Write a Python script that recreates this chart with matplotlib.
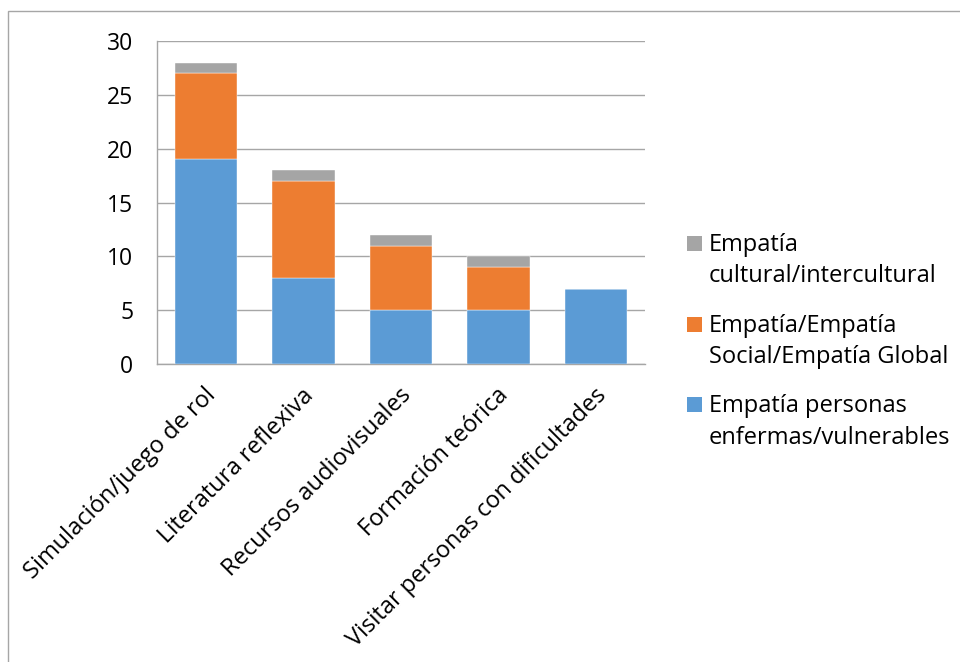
import matplotlib
matplotlib.use("Agg")
import matplotlib.pyplot as plt
from matplotlib.patches import Rectangle
import matplotlib.transforms as mtransforms
import numpy as np

categories = ["Simulación/juego de rol", "Literatura reflexiva", "Recursos audiovisuales",
              "Formación teórica", "Visitar personas con dificultades"]
series_names = ["Empatía personas\nenfermas/vulnerables",
                "Empatía/Empatía\nSocial/Empatía Global",
                "Empatía\ncultural/intercultural"]
vulnerables = [19, 8, 5, 5, 7]
social_global = [8, 9, 6, 4, 0]
cultural = [1, 1, 1, 1, 0]
yticks = [0, 5, 10, 15, 20, 25, 30]

colors = ["#5B9BD5", "#ED7D31", "#A5A5A5"]

plt.rcParams['font.family'] = ['Open Sans', 'DejaVu Sans']

W, H = 960, 662
fig = plt.figure(figsize=(W / 100, H / 100), dpi=100)
ax = fig.add_axes([157 / W, 1 - 364 / H, (645 - 157) / W, (364 - 41) / H])

x = np.arange(len(categories))
bw = 0.64
bottom = np.zeros(len(categories))
for vals, c in zip([vulnerables, social_global, cultural], colors):
    v = np.array(vals, dtype=float)
    ax.bar(x, v, bw, bottom=bottom, color=c, edgecolor='white', linewidth=0.3, zorder=3)
    bottom += v

ax.set_xlim(-0.5, len(categories) - 0.5)
ax.set_ylim(0, 30)
ax.set_yticks(yticks)
ax.yaxis.grid(True, color='#A6A6A6', linewidth=1.0, zorder=0)
ax.set_axisbelow(True)
for s in ['top', 'right']:
    ax.spines[s].set_visible(False)
for s in ['left', 'bottom']:
    ax.spines[s].set_color('#A6A6A6')
    ax.spines[s].set_linewidth(1.0)
ax.tick_params(axis='y', length=0, pad=17, labelsize=16.5, labelcolor='black')
ax.tick_params(axis='x', length=0, pad=14, labelsize=17)
ax.set_xticks(x)
ax.set_xticklabels(categories, rotation=45, ha='right', va='top', rotation_mode='anchor')
offset = mtransforms.ScaledTranslation(-2 / 100, 0, fig.dpi_scale_trans)
for lab in ax.get_xticklabels():
    lab.set_transform(lab.get_transform() + offset)

# legend (top entry is the last series), placed in figure pixels
legend_order = [2, 1, 0]
first_baselines = [251, 332, 412]
line_step = 31.5
for idx, b in zip(legend_order, first_baselines):
    fig.patches.append(Rectangle((687 / W, 1 - b / H), 15 / W, 15 / H,
                                 transform=fig.transFigure, facecolor=colors[idx],
                                 edgecolor='none'))
    for k, line in enumerate(series_names[idx].split("\n")):
        fig.text(709 / W, 1 - (b + k * line_step) / H, line, fontsize=17,
                 ha='left', va='baseline', color='black')

# outer chart border (extends beyond the right/bottom of the image)
fig.patches.append(Rectangle((8 / W, -0.1), 1.2, (1 - 11 / H) + 0.1, transform=fig.transFigure,
                             fill=False, edgecolor='#A6A6A6', linewidth=1.0))

fig.savefig("out.png", dpi=100)
